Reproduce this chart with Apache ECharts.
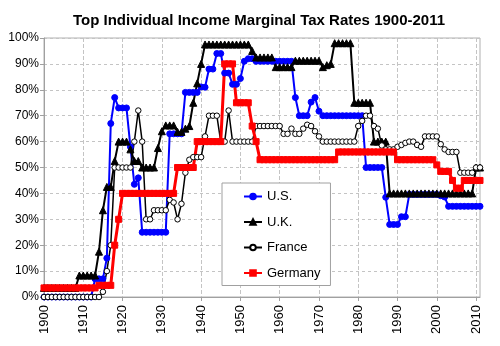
<!DOCTYPE html>
<html>
<head>
<meta charset="utf-8">
<script src="https://cdn.jsdelivr.net/npm/echarts@6/dist/echarts.min.js"></script>
<style>
html,body{margin:0;padding:0;background:#fff;}
#c{width:500px;height:346px;}
</style>
</head>
<body>
<div id="c"></div>
<script>
var years = ['1900','1901','1902','1903','1904','1905','1906','1907','1908','1909',
'1910','1911','1912','1913','1914','1915','1916','1917','1918','1919',
'1920','1921','1922','1923','1924','1925','1926','1927','1928','1929',
'1930','1931','1932','1933','1934','1935','1936','1937','1938','1939',
'1940','1941','1942','1943','1944','1945','1946','1947','1948','1949',
'1950','1951','1952','1953','1954','1955','1956','1957','1958','1959',
'1960','1961','1962','1963','1964','1965','1966','1967','1968','1969',
'1970','1971','1972','1973','1974','1975','1976','1977','1978','1979',
'1980','1981','1982','1983','1984','1985','1986','1987','1988','1989',
'1990','1991','1992','1993','1994','1995','1996','1997','1998','1999',
'2000','2001','2002','2003','2004','2005','2006','2007','2008','2009',
'2010','2011'];

var us = [0,0,0,0,0,0,0,0,0,0,
0,0,0,7,7,7,15,67,77,73,
73,73,58,43.5,46,25,25,25,25,25,
25,25,63,63,63,63,79,79,79,79,
81.1,81,88,88,94,94,86.45,86.45,82.13,82.13,
84.36,91,92,92,91,91,91,91,91,91,
91,91,91,91,77,70,70,70,75.25,77,
71.75,70,70,70,70,70,70,70,70,70,
70,70,50,50,50,50,50,38.5,28,28,
28,31,31,39.6,39.6,39.6,39.6,39.6,39.6,39.6,
39.6,39.1,38.6,35,35,35,35,35,35,35,
35,35];

var uk = [3.5,3.5,3.5,3.5,3.5,3.5,3.5,3.5,3.5,8.3,
8.3,8.3,8.3,8.3,17.5,33.5,42.5,42.5,52.5,60,
60,60,57,52.5,52.5,50,50,50,50,57.5,
64,66.25,66.25,66.25,63.75,63.75,65,66,75,82.5,
90,97.5,97.5,97.5,97.5,97.5,97.5,97.5,97.5,97.5,
97.5,97.5,97.5,95,92.5,92.5,92.5,92.5,92.5,88.75,
88.75,88.75,88.75,88.75,91.25,91.25,91.25,91.25,91.25,91.25,
91.25,88.75,89.5,90,98,98,98,98,98,75,
75,75,75,75,60,60,60,60,40,40,
40,40,40,40,40,40,40,40,40,40,
40,40,40,40,40,40,40,40,40,40,
50,50];

var france = [0,0,0,0,0,0,0,0,0,0,
0,0,0,0,0,2,10,20,50,50,
50,50,50,60,72,60,30,30,33.5,33.5,
33.5,33.5,37.5,36.5,30,36,48,53,54,54,
54,62,70,70,70,60,60,72,60,60,
60,60,60,60,66,66,66,66,66,66,
66,63,63,65,63,63,65,66.5,66,64,
62,60,60,60,60,60,60,60,60,60,
66,68,70,70,66,65,58.5,57,57,57,
58,58.7,59.5,60,60,58.7,58,62,62,62,
62,59,57,56,56,56,48,48,48,48,
50,50];

var germany = [3.5,3.5,3.5,3.5,3.5,3.5,3.5,3.5,3.5,3.5,
3.5,3.5,3.5,3.5,4.5,4.5,4.5,4.5,20,30,
40,40,40,40,40,40,40,40,40,40,
40,40,40,40,50,50,50,50,50,60,
60,60,60,60,60,60,90,90,90,75,
75,75,75,66,60,53,53,53,53,53,
53,53,53,53,53,53,53,53,53,53,
53,53,53,53,53,56,56,56,56,56,
56,56,56,56,56,56,56,56,56,56,
53,53,53,53,53,53,53,53,53,53,
51,48.5,48.5,48.5,45,42,42,45,45,45,
45,45];

var seriesNames = ['U.S.','U.K.','France','Germany'];

var FONT = 'Liberation Sans, Arial, Helvetica, sans-serif';
var chart = echarts.init(document.getElementById('c'), null, {renderer:'canvas'});

function mk(name, data, color, symbol, size, fill, lw) {
  return {
    name: name, type: 'line', data: data,
    symbol: symbol, symbolSize: size, showAllSymbol: true,
    animation: false,
    lineStyle: {color: color, width: lw},
    itemStyle: {color: fill, borderColor: color, borderWidth: 1},
    emphasis: {disabled: true}
  };
}

chart.setOption({
  backgroundColor: '#fff',
  animation: false,
  title: {
    text: 'Top Individual Income Marginal Tax Rates 1900-2011',
    left: 254, top: 8, textAlign: 'center',
    textStyle: {fontFamily: FONT, fontSize: 15, fontWeight: 'bold', color: '#000'}
  },
  grid: {left: 44, right: 20, top: 38, bottom: 49, show: true, borderColor: '#b0b0b0', borderWidth: 1},
  legend: {
    orient: 'vertical', left: 222, top: 183,
    padding: [7, 10, 6, 21], itemGap: 12.5, itemWidth: 18, itemHeight: 7,
    backgroundColor: '#fff', borderColor: '#a0a0a0', borderWidth: 1,
    textStyle: {fontFamily: FONT, fontSize: 13, color: '#000'},
    data: seriesNames
  },
  xAxis: {
    type: 'category', data: years, boundaryGap: false,
    axisLine: {lineStyle: {color: '#a0a0a0'}},
    axisTick: {show: true, interval: 9, length: 4, lineStyle: {color: '#a0a0a0'}},
    axisLabel: {interval: 9, rotate: 90, fontFamily: FONT, fontSize: 13, color: '#000', margin: 8},
    splitLine: {show: true, interval: 9, lineStyle: {color: '#c4c4c4', type: 'dashed'}}
  },
  yAxis: {
    type: 'value', min: 0, max: 100, interval: 10,
    axisLine: {show: true, lineStyle: {color: '#a0a0a0'}},
    axisTick: {show: true, length: 4, lineStyle: {color: '#a0a0a0'}},
    axisLabel: {formatter: '{value}%', fontFamily: FONT, fontSize: 12, color: '#000', margin: 5},
    splitLine: {show: true, lineStyle: {color: '#c4c4c4', type: [3, 3]}}
  },
  series: [
    mk(seriesNames[0], us, '#0000ff', 'circle', 6, '#0000ff', 2),
    mk(seriesNames[1], uk, '#000000', 'triangle', 7, '#000000', 2),
    mk(seriesNames[2], france, '#000000', 'circle', 5.5, '#ffffff', 1.5),
    mk(seriesNames[3], germany, '#ff0000', 'rect', 6, '#ff0000', 3)
  ]
});
</script>
</body>
</html>
